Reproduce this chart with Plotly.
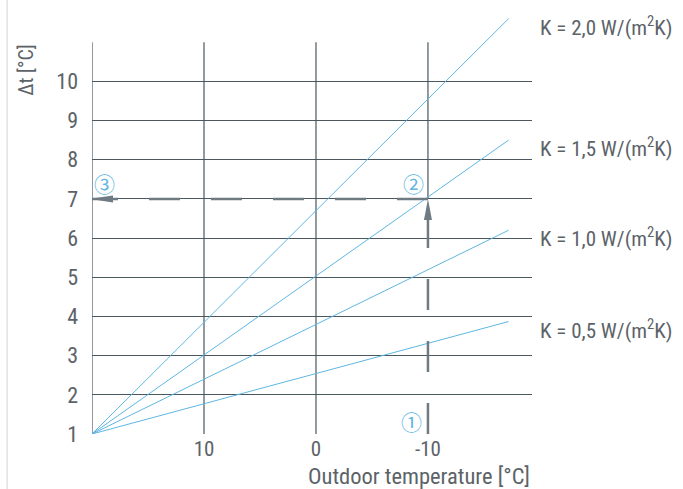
import plotly.graph_objects as go

# ---- data ----
k_values = [0.5, 1.0, 1.5, 2.0]
k_labels = ["K = 0,5 W/(m<sup>2</sup>K)", "K = 1,0 W/(m<sup>2</sup>K)",
            "K = 1,5 W/(m<sup>2</sup>K)", "K = 2,0 W/(m<sup>2</sup>K)"]
temp_start = 20
temp_end = -17.2
dt_start = 1
dt_end = [3.87, 6.2, 8.5, 11.6]

x_ticks = [10, 0, -10]
x_tick_labels = ["10", "0", "-10"]
y_ticks = [1, 2, 3, 4, 5, 6, 7, 8, 9, 10]
x_grid = [20, 10, 0]
grid_top = 11

example_temp = -10     # point 1
example_dt = 7         # point 2 / 3

FONT = "Roboto Condensed, Roboto, sans-serif"
TXT = "#5c6368"
GRID = "#4a575f"
BLUE = "#5fb6e3"
DASH = "#6f7b82"

fig = go.Figure()

# K lines
for k, lab, de in zip(k_values, k_labels, dt_end):
    fig.add_trace(go.Scatter(x=[temp_start, temp_end], y=[dt_start, de],
                             mode="lines", line=dict(color=BLUE, width=1),
                             hoverinfo="skip", showlegend=False))
    fig.add_annotation(x=1.0136, xref="paper", y=de, yref="y", yshift=-7,
                       text=lab, showarrow=False, xanchor="left",
                       yanchor="middle",
                       font=dict(family=FONT, size=21, color=TXT))

# dashed reading path
fig.add_trace(go.Scatter(x=[example_temp, example_temp], y=[dt_start, example_dt],
                         mode="lines", line=dict(color=DASH, width=2.5, dash="31px,31px"),
                         hoverinfo="skip", showlegend=False))
fig.add_trace(go.Scatter(x=[example_temp, temp_start], y=[example_dt, example_dt],
                         mode="lines", line=dict(color=DASH, width=2.5, dash="31px,31px"),
                         hoverinfo="skip", showlegend=False))

# circled numbers
circ_font = dict(family="Noto Sans CJK JP, DejaVu Sans", size=21, color=BLUE)
fig.add_annotation(x=example_temp, y=dt_start, text="①", showarrow=False,
                   xshift=-16, yshift=13, font=circ_font)
fig.add_annotation(x=example_temp, y=example_dt, text="②", showarrow=False,
                   xshift=-14, yshift=16, font=circ_font)
fig.add_annotation(x=temp_start, y=example_dt, text="③", showarrow=False,
                   xshift=12, yshift=16, font=circ_font)

shapes = []
# vertical grid lines (stop at 11)
for gx in x_grid:
    shapes.append(dict(type="line", xref="x", yref="y", x0=gx, x1=gx,
                       y0=dt_start, y1=grid_top, line=dict(color=GRID, width=1.2),
                       layer="below"))
shapes.append(dict(type="line", xref="x", yref="y", x0=example_temp, x1=example_temp,
                   y0=example_dt, y1=grid_top, line=dict(color=GRID, width=1.2),
                   layer="below"))
# arrowheads (pixel-sized, anchored at data points)
shapes.append(dict(type="path", xref="x", yref="y", xsizemode="pixel", ysizemode="pixel",
                   xanchor=temp_start, yanchor=example_dt,
                   path="M-3,0 L21,3.5 L21,-3.5 Z",
                   fillcolor=DASH, line=dict(width=0)))
shapes.append(dict(type="path", xref="x", yref="y", xsizemode="pixel", ysizemode="pixel",
                   xanchor=example_temp, yanchor=example_dt,
                   path="M0,0 L4,-21 L-4,-21 Z",
                   fillcolor=DASH, line=dict(width=0)))
# left frame line
shapes.append(dict(type="line", xref="paper", yref="paper", x0=-0.193, x1=-0.193,
                   y0=-0.14, y1=1.02, line=dict(color="#d4d4d4", width=1)))

# axis titles
fig.add_annotation(x=1.0, xref="paper", y=-0.097, yref="paper",
                   text="Outdoor temperature [°C]", showarrow=False,
                   xanchor="right", yanchor="middle",
                   font=dict(family=FONT, size=22.5, color=TXT))
fig.add_annotation(x=-0.152, xref="paper", y=10.3, yref="y",
                   text="Δt [°C]", showarrow=False, textangle=-90,
                   xanchor="center", yanchor="middle",
                   font=dict(family=FONT, size=20, color=TXT))

fig.update_layout(
    width=683, height=489,
    margin=dict(l=92, r=151, t=3, b=55),
    paper_bgcolor="white", plot_bgcolor="white",
    shapes=shapes,
    xaxis=dict(range=[20, -19.29], tickvals=x_ticks, ticktext=x_tick_labels,
               showgrid=False, zeroline=False, showline=False, ticks="",
               tickfont=dict(family=FONT, size=21, color=TXT),
               ticklabelstandoff=0, fixedrange=True),
    yaxis=dict(range=[1, 12], tickvals=y_ticks, showgrid=True,
               gridcolor=GRID, gridwidth=1.2, zeroline=False, showline=False,
               ticks="", tickfont=dict(family=FONT, size=22, color=TXT),
               ticklabelstandoff=13, fixedrange=True),
)

fig.write_html("out.html", post_script="document.body.style.margin='0';",
               config={"displayModeBar": False})
